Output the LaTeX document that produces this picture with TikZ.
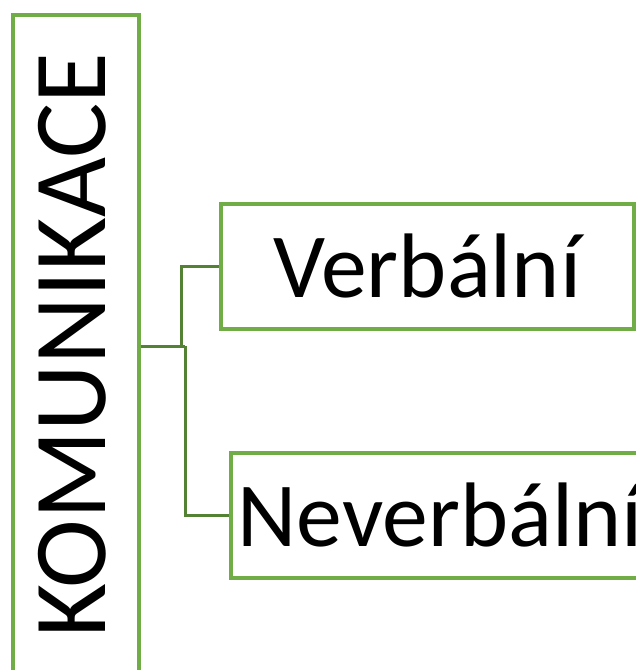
\documentclass[tikz,border=0pt]{standalone}
\usepackage{fontspec}
\setmainfont{Carlito}
\definecolor{boxgreen}{HTML}{70AD47}
\definecolor{linkgreen}{HTML}{548235}
\begin{document}
\begin{tikzpicture}[x=1bp,y=-1bp,
  term/.style={draw=boxgreen,line width=3.2bp,inner sep=0pt,font=\fontsize{92}{92}\selectfont},
  link/.style={draw=linkgreen,line width=3bp}]
\useasboundingbox (0,0) rectangle (636,670);
\clip (0,0) rectangle (636,670);
% root box, standing upright with rotated label
\node[term,minimum width=126bp,minimum height=660bp] (root) at (76,345) {};
\node[rotate=90,font=\fontsize{104}{104}\selectfont,inner sep=0pt] (rootlabel) at (72.5,345) {KOMUNIKACE};
% the two branches
\node[term,minimum width=413bp,minimum height=125bp] (verb) at (427.5,266.5) {Verbální};
\node[term,minimum width=418bp,minimum height=125bp] (never) at (440,515.5) {Neverbální};
% elbow connectors
\coordinate (fork) at (185,346);
\draw[link] (root.east |- fork) -- (fork);
\draw[link] (181,346) |- (verb.west);
\draw[link] (fork) |- (never.west);
\end{tikzpicture}
\end{document}
